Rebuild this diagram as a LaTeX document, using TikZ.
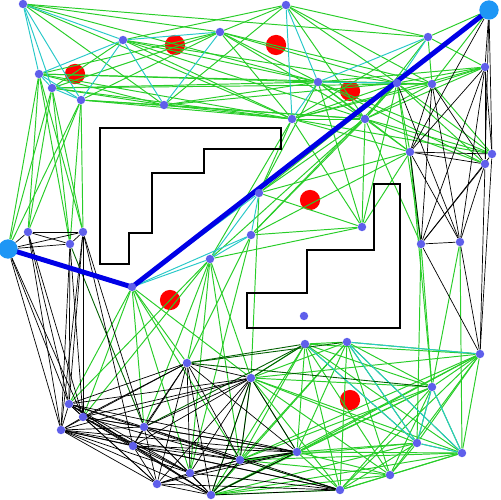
\documentclass[tikz,border=0pt]{standalone}
\usepackage{xcolor}
\usepackage{tikz}
\usetikzlibrary{backgrounds}

\definecolor{dotblue}{RGB}{95,95,235}
\definecolor{endblue}{RGB}{30,150,245}
\definecolor{pathblue}{RGB}{0,0,230}
\definecolor{edgegreen}{RGB}{40,205,40}
\definecolor{edgecyan}{RGB}{40,200,200}
\definecolor{edgedark}{RGB}{0,95,0}

\begin{document}
\begin{tikzpicture}[x=0.02cm, y=-0.02cm,
    pt/.style={circle, fill=dotblue, inner sep=0pt, minimum size=4.8pt},
    endpt/.style={circle, fill=endblue, inner sep=0pt, minimum size=11pt},
    disc/.style={circle, fill=red, inner sep=0pt, minimum size=11.5pt},
    gedge/.style={edgegreen, line width=0.55pt},
    cedge/.style={edgecyan, line width=0.55pt},
    kedge/.style={black, line width=0.4pt},
    dedge/.style={edgedark, line width=0.5pt},
    wall/.style={black, line width=0.6pt}]
    \useasboundingbox (0,0) rectangle (500,500);
    % Obstacles
    \draw[wall] (100,128) -- (281,128) -- (281,149) -- (204,149) -- (204,173) -- (152,173)
        -- (152,233) -- (129,233) -- (129,264) -- (100,264) -- cycle;
    \draw[wall] (374,184) -- (400,184) -- (400,328) -- (247,328) -- (247,293) -- (307,293)
        -- (307,250) -- (374,250) -- cycle;
    % Samples top
    \node[pt] (t1) at ( 23,  4) {};
    \node[pt] (t2) at (123, 40) {};
    \node[pt] (t3) at (220, 32) {};
    \node[pt] (t4) at (286,  5) {};
    \node[pt] (t5) at (428, 37) {};
    \node[pt] (t6) at ( 39, 74) {};
    \node[pt] (t7) at ( 52, 88) {};
    \node[pt] (t8) at ( 81,100) {};
    \node[pt] (t9) at (164,105) {};
    \node[pt] (t10) at (318, 82) {};
    \node[pt] (t11) at (397, 83) {};
    \node[pt] (t12) at (432, 84) {};
    \node[pt] (t13) at (485, 67) {};
    \node[pt] (t14) at (292,119) {};
    \node[pt] (t15) at (365,119) {};
    % Samples right
    \node[pt] (r1) at (410,152) {};
    \node[pt] (r2) at (492,154) {};
    \node[pt] (r3) at (485,164) {};
    \node[pt] (r4) at (421,244) {};
    \node[pt] (r5) at (460,242) {};
    \node[pt] (r6) at (480,354) {};
    % Samples middle
    \node[pt] (m1) at (259,193) {};
    \node[pt] (m2) at (251,235) {};
    \node[pt] (m3) at (362,227) {};
    \node[pt] (m4) at (210,259) {};
    \node[pt] (corner) at (132,287) {};
    \node[pt] (m5) at (304,316) {};
    % Samples left
    \node[pt] (l1) at ( 28,232) {};
    \node[pt] (l2) at ( 83,232) {};
    \node[pt] (l3) at ( 70,244) {};
    % Samples bottom left
    \node[pt] (b1) at ( 69,404) {};
    \node[pt] (b2) at ( 83,417) {};
    \node[pt] (b3) at ( 61,430) {};
    \node[pt] (b4) at (144,427) {};
    \node[pt] (b5) at (133,446) {};
    \node[pt] (b6) at (187,363) {};
    \node[pt] (b7) at (251,378) {};
    \node[pt] (b8) at (190,473) {};
    \node[pt] (b9) at (157,484) {};
    \node[pt] (b10) at (211,495) {};
    \node[pt] (b11) at (240,460) {};
    % Samples bottom right
    \node[pt] (g1) at (305,344) {};
    \node[pt] (g2) at (347,342) {};
    \node[pt] (g3) at (432,387) {};
    \node[pt] (g4) at (417,443) {};
    \node[pt] (g5) at (462,453) {};
    \node[pt] (g6) at (297,452) {};
    \node[pt] (g7) at (390,475) {};
    \node[pt] (g8) at (340,490) {};
    % Start and goal
    \node[endpt] (start) at (  8,249) {};
    \node[endpt] (goal) at (489, 10) {};
    \begin{pgfonlayer}{background}
        % Discs
        \node[disc] (o1) at ( 75, 74) {};
        \node[disc] (o2) at (175, 45) {};
        \node[disc] (o3) at (276, 45) {};
        \node[disc] (o4) at (350, 91) {};
        \node[disc] (o5) at (310,200) {};
        \node[disc] (o6) at (170,300) {};
        \node[disc] (o7) at (350,400) {};
        % Edges top
        \foreach \a/\b in {t1/t3, t1/t5, t1/t9, t1/t14, t1/t10, t2/t7, t2/t14, t2/t10, t2/t11,
            t2/t15, t2/t4, t3/t6, t3/t7, t3/t8, t3/t14, t3/t10, t3/t11, t3/t12, t3/t4, t3/t15,
            t4/t5, t4/t11, t4/t12, t4/t15, t4/t9, t5/t12, t5/t14, t5/t15, t5/goal, t5/t13,
            t6/t9, t6/t14, t6/t10, t6/t11, t7/t9, t7/t14, t7/t10, t7/t12, t8/t9, t8/t14, t8/t15,
            t9/t14, t9/t10, t9/t11, t9/t15, t10/t12, t10/t13, t10/t15, t10/r1, t10/r2, t10/r3,
            t14/t11, t14/t12, t14/t13, t14/t15, t14/r1, t14/r2, t15/t11, t15/t12, t15/t13,
            t15/r1, t15/r2, t15/r3, t15/r4, t11/t12, t11/t13, t11/goal, t11/r1, t11/r2, t11/r3,
            t11/r4, t12/t13, t12/goal, t12/r2}
            \draw[gedge] (\a) -- (\b);
        \foreach \a/\b in {t1/t2, t1/t6, t1/t7, t1/t8, t2/t6, t2/t8, t2/t9, t2/t3, t3/t9,
            t4/t14, t4/t10, t6/t7, t6/t8, t7/t8, t5/t10, t10/t14, t10/t11, t5/t11}
            \draw[cedge] (\a) -- (\b);
        % Edges middle
        \foreach \a/\b in {m1/m3, m2/m3, m4/m3, m1/t14, m1/t10, m1/t15, m2/t15, m3/t14, m3/t10,
            m3/t15, m1/t11, m2/t11, m4/t15, m2/r1, m1/r1, m3/r1, m3/t11, m4/t14,
            corner/b1, corner/b2, corner/b4, corner/b6, corner/b8, corner/b11, corner/b7,
            m4/b1, m4/b2, m4/b4, m4/b6, m4/b8, m4/b7, m4/b11, m2/b8, m2/b6, m1/b7}
            \draw[gedge] (\a) -- (\b);
        \foreach \a/\b in {corner/m4, corner/m1, corner/m2, m4/m1, m4/m2, m1/m2}
            \draw[cedge] (\a) -- (\b);
        % Edges right
        \foreach \a/\b in {r4/g3, r4/g4, r5/g3, r1/g3, r1/r4, r5/g5}
            \draw[gedge] (\a) -- (\b);
        \foreach \a/\b in {goal/t13, goal/r1, goal/r2, goal/r3, t13/r1, t13/r2, t13/r3, t13/r4,
            t13/r5, t12/r1, t12/r3, t12/r4, t12/r5, r1/r2, r1/r3, r1/r4, r1/r5, r2/r4, r3/r4,
            r3/r5, r4/r5, r4/r6, r5/r6, r2/r6, r3/r6, t11/r5}
            \draw[kedge] (\a) -- (\b);
        % Edges left
        \foreach \a/\b in {t6/l1, t6/l2, t6/l3, t6/start, t7/l1, t7/l2, t7/l3, t7/start,
            t8/l1, t8/l2, t8/l3, t8/start}
            \draw[gedge] (\a) -- (\b);
        \draw[dedge] (l3) -- (b4);
        \foreach \a/\b in {start/l1, start/l2, start/l3, l1/l2, l1/l3, l2/l3, start/b1, start/b2,
            start/b3, l1/b1, l1/b2, l1/b3, l2/b1, l2/b2, l2/b3, l2/b4, l3/b1, l3/b2, l3/b3, l2/b5}
            \draw[kedge] (\a) -- (\b);
        % Edges bottom right
        \def\lowright{g1,g2,g3,g4,g5,g6,g7,g8,b7,b10,b11,r6}
        \foreach \a [count=\i] in \lowright {
            \foreach \b [count=\j] in \lowright {
                \ifnum\j>\i\relax \draw[gedge] (\a) -- (\b); \fi
            }
        }
        \foreach \a/\b in {g2/g4, g2/g5, g3/g4, g3/g5, g4/g5, g1/g4, g2/r6}
            \draw[cedge] (\a) -- (\b);
        \foreach \a/\b in {b6/g1, b7/g1, b6/g2, b4/g1, b6/g3}
            \draw[dedge] (\a) -- (\b);
        % Edges bottom left
        \def\lowleft{b1,b2,b3,b4,b5,b6,b7,b8,b9,b10,b11,g6}
        \foreach \a [count=\i] in \lowleft {
            \foreach \b [count=\j] in \lowleft {
                \ifnum\j>\i\relax \draw[kedge] (\a) -- (\b); \fi
            }
        }
        \foreach \a/\b in {b3/g8, b5/g8, b9/g8, b10/g8, b8/g8, b11/g8, b4/g8}
            \draw[kedge] (\a) -- (\b);
        % Path
        \draw[pathblue, line width=2.8pt, line join=round] (start.center) -- (corner.center) -- (goal.center);
    \end{pgfonlayer}
\end{tikzpicture}
\end{document}
